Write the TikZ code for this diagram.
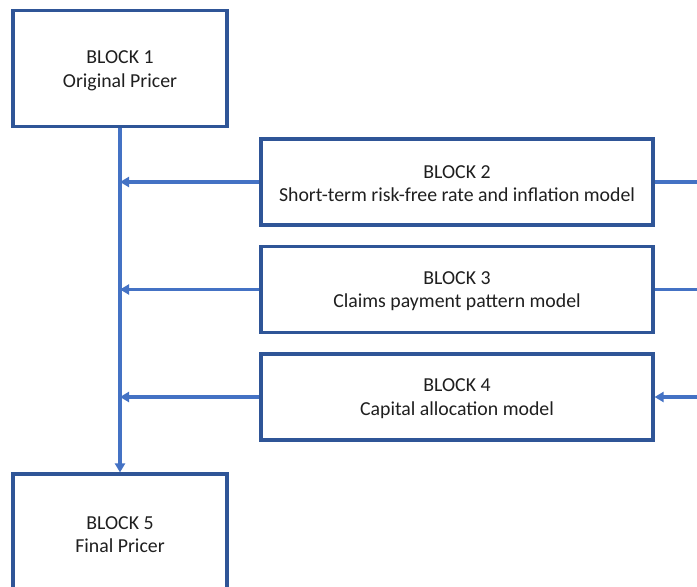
\documentclass[tikz,border=0pt]{standalone}
\usepackage{fontspec}
\setmainfont{Carlito}
\usetikzlibrary{arrows.meta}
\definecolor{boxblue}{HTML}{2F5597}
\definecolor{lineblue}{HTML}{4472C4}
\begin{document}
\begin{tikzpicture}[x=1pt,y=-1pt,
  blockbox/.style={draw=boxblue,line width=3.2pt,fill=white,inner sep=0pt,align=center,
    font=\fontsize{19.8}{23.5}\selectfont,text=black!88},
  txt/.style={inner sep=0pt,align=center,font=\fontsize{19.8}{23.5}\selectfont,text=black!88},
  conn/.style={draw=lineblue,line width=3.4pt},
  arr/.style={conn,-{Triangle[length=9pt,width=10pt]}}]
\useasboundingbox (0,0) rectangle (697,587);
\begin{scope}
\clip (0,0) rectangle (697,587);
\node[blockbox,minimum width=214pt,minimum height=116pt] (b1) at (120,68.5) {};
\node[blockbox,minimum width=392pt,minimum height=86pt] (b2) at (457,182) {};
\node[blockbox,minimum width=392pt,minimum height=86pt] (b3) at (457,289.5) {};
\node[blockbox,minimum width=392pt,minimum height=86pt] (b4) at (457,397) {};
\node[blockbox,minimum width=214pt,minimum height=120pt] (b5) at (120,534) {};
\node[txt] (t1) at ([yshift=-2.5pt]b1.center) {BLOCK 1\\Original Pricer};
\node[txt] (t2) at ([yshift=-1.5pt]b2.center) {BLOCK 2\\Short-term risk-free rate and inflation model};
\node[txt] (t3) at ([yshift=-1.5pt]b3.center) {BLOCK 3\\Claims payment pattern model};
\node[txt] (t4) at ([yshift=-1.5pt]b4.center) {BLOCK 4\\Capital allocation model};
\node[txt] (t5) at ([yshift=-0.5pt]b5.center) {BLOCK 5\\Final Pricer};
\coordinate (r2) at (697,182);
\coordinate (r3) at (697,289.5);
\coordinate (r4) at (697,397);
\coordinate (j2) at (120,182);
\coordinate (j3) at (120,289.5);
\coordinate (j4) at (120,397);
\draw[arr] (b1.south) -- (b5.north);
\draw[arr] (b2.west) -- (j2);
\draw[arr] (b3.west) -- (j3);
\draw[arr] (b4.west) -- (j4);
\draw[conn] (b2.east) -- (r2);
\draw[conn] (b3.east) -- (r3);
\draw[arr] (r4) -- (b4.east);
\end{scope}
\end{tikzpicture}
\end{document}
